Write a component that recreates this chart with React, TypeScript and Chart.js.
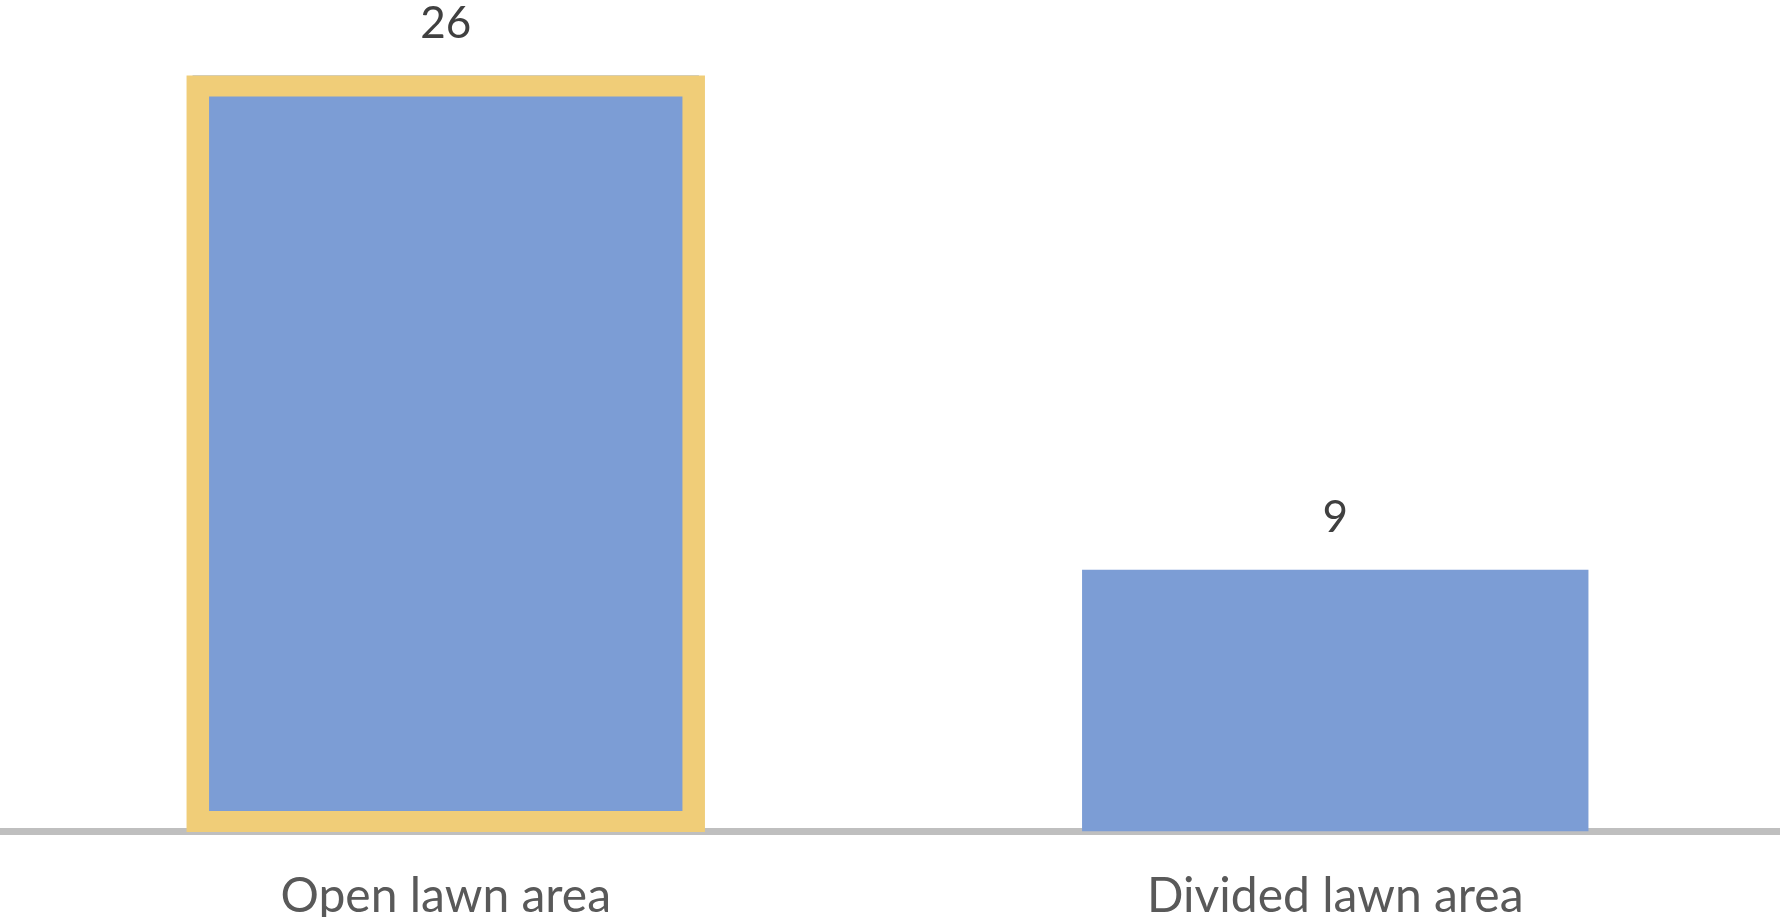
import React, { useEffect, useRef } from "react";
import { Chart, registerables } from "chart.js";

Chart.register(...registerables);

const categories: string[] = ["Open lawn area", "Divided lawn area"];
const values: number[] = [26, 9];
const highlighted: boolean[] = [true, false];

const BAR_COLOR = "#7C9DD5";
const HILITE_COLOR = "#F0CD78";
const AXIS_COLOR = "#BFBFBF";
const FONT = "Lato, 'Open Sans', sans-serif";

const overlayPlugin = {
  id: "overlay",
  afterDraw(chart: any) {
    const { ctx } = chart;
    const meta = chart.getDatasetMeta(0);
    ctx.save();
    // highlight frame around the emphasised bar
    meta.data.forEach((el: any, i: number) => {
      if (!highlighted[i]) return;
      const half = el.width / 2;
      const left = el.x - half;
      const right = el.x + half;
      const top = el.y;
      const base = el.base;
      ctx.fillStyle = HILITE_COLOR;
      ctx.beginPath();
      ctx.rect(left - 6, top, right - left + 12, base + 0.5 - top);
      ctx.rect(left + 16.5, top + 21, right - left - 33, base - 20.5 - (top + 21));
      ctx.fill("evenodd");
    });
    ctx.fillStyle = "#404040";
    ctx.font = `44px ${FONT}`;
    ctx.textAlign = "center";
    ctx.textBaseline = "alphabetic";
    meta.data.forEach((el: any, i: number) => {
      ctx.fillText(String(values[i]), el.x, el.y - 37.5);
    });
    ctx.restore();
  },
};

export default function App() {
  const ref = useRef<HTMLCanvasElement | null>(null);
  useEffect(() => {
    document.body.style.margin = "0";
    const chart = new Chart(ref.current as HTMLCanvasElement, {
      type: "bar",
      data: {
        labels: categories,
        datasets: [
          {
            data: values,
            backgroundColor: BAR_COLOR,
            borderWidth: 0,
            barPercentage: 0.5693,
            categoryPercentage: 1,
          },
        ],
      },
      options: {
        animation: false,
        responsive: true,
        maintainAspectRatio: false,
        layout: { padding: { left: 1, right: -2, top: 0, bottom: 0 } },
        plugins: { legend: { display: false }, tooltip: { enabled: false } },
        scales: {
          x: {
            z: 1,
            grid: { display: false, drawTicks: false },
            border: { display: true, color: AXIS_COLOR, width: 7 },
            ticks: {
              color: "#595959",
              font: { family: FONT, size: 48 },
              padding: 36,
              maxRotation: 0,
            },
            afterFit(scale: any) {
              scale.height = 85.5;
            },
          },
          y: {
            display: false,
            min: 0,
            max: 28.6,
          },
        },
      },
      plugins: [overlayPlugin],
    });
    return () => chart.destroy();
  }, []);
  return (
    <div style={{ width: 1780, height: 917, position: "relative" }}>
      <canvas ref={ref} />
    </div>
  );
}
